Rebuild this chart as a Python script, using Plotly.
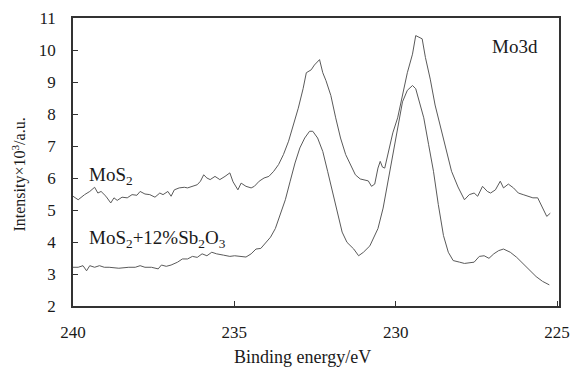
import plotly.graph_objects as go

# MoS2 (upper curve)
mos2_energy = [240.0, 239.84, 239.64, 239.48, 239.33, 239.23, 239.13, 238.98, 238.83, 238.73,
               238.63, 238.48, 238.32, 238.17, 238.02, 237.92, 237.77, 237.62, 237.46, 237.31,
               237.21, 237.06, 236.96, 236.86, 236.71, 236.55, 236.45, 236.30, 236.15, 236.05,
               235.95, 235.85, 235.75, 235.60, 235.45, 235.29, 235.14, 235.04, 234.89, 234.79,
               234.64, 234.48, 234.38, 234.23, 234.08, 233.93, 233.78, 233.63, 233.48, 233.32,
               233.17, 233.02, 232.87, 232.77, 232.62, 232.52, 232.36, 232.26, 232.16, 232.01,
               231.86, 231.71, 231.55, 231.40, 231.25, 231.10, 230.95, 230.85, 230.75, 230.65,
               230.55, 230.48, 230.41, 230.34, 230.24, 230.09, 229.94, 229.79, 229.64, 229.48,
               229.38, 229.28, 229.18, 229.08, 228.93, 228.78, 228.58, 228.42, 228.27, 228.07,
               227.87, 227.72, 227.57, 227.46, 227.31, 227.16, 227.06, 226.91, 226.76, 226.66,
               226.51, 226.35, 226.20, 226.05, 225.90, 225.75, 225.60, 225.45, 225.32, 225.21]
mos2_intensity = [5.43, 5.32, 5.48, 5.58, 5.71, 5.53, 5.58, 5.43, 5.22, 5.38,
                  5.30, 5.40, 5.38, 5.48, 5.46, 5.58, 5.50, 5.48, 5.40, 5.53,
                  5.48, 5.58, 5.43, 5.63, 5.69, 5.71, 5.69, 5.74, 5.79, 5.90,
                  6.10, 6.00, 5.95, 6.05, 5.95, 6.05, 6.16, 5.88, 5.63, 5.84,
                  5.74, 5.69, 5.74, 5.90, 6.00, 6.05, 6.21, 6.42, 6.73, 7.15,
                  7.67, 8.18, 8.79, 9.29, 9.38, 9.53, 9.70, 9.29, 9.04, 8.58,
                  7.88, 7.25, 6.73, 6.42, 6.10, 5.97, 5.92, 5.91, 5.74, 5.81,
                  6.31, 6.52, 6.34, 6.31, 6.75, 7.41, 7.88, 8.58, 9.29, 9.87,
                  10.45, 10.40, 10.35, 9.77, 9.09, 8.28, 7.46, 6.73, 6.21, 5.72,
                  5.32, 5.48, 5.53, 5.43, 5.74, 5.58, 5.53, 5.63, 5.90, 5.69,
                  5.81, 5.69, 5.53, 5.48, 5.43, 5.38, 5.38, 5.06, 4.80, 4.90]

# MoS2 + 12% Sb2O3 (lower curve)
mix_energy = [240.0, 239.84, 239.69, 239.58, 239.48, 239.33, 239.18, 239.03, 238.88, 238.58,
              238.27, 238.07, 237.92, 237.77, 237.57, 237.36, 237.26, 237.11, 236.96, 236.76,
              236.61, 236.45, 236.30, 236.15, 236.00, 235.85, 235.70, 235.55, 235.34, 235.14,
              234.99, 234.85, 234.64, 234.48, 234.33, 234.18, 234.03, 233.88, 233.73, 233.58,
              233.42, 233.27, 233.12, 232.97, 232.82, 232.67, 232.57, 232.42, 232.26, 232.11,
              231.96, 231.81, 231.66, 231.51, 231.30, 231.15, 231.00, 230.80, 230.65, 230.55,
              230.39, 230.24, 230.09, 229.94, 229.79, 229.64, 229.48, 229.38, 229.23, 229.13,
              228.98, 228.83, 228.68, 228.52, 228.37, 228.22, 228.02, 227.87, 227.57, 227.41,
              227.26, 227.11, 226.96, 226.81, 226.66, 226.45, 226.25, 226.05, 225.85, 225.65,
              225.45, 225.24]
mix_intensity = [3.21, 3.21, 3.26, 3.10, 3.26, 3.21, 3.26, 3.21, 3.21, 3.18,
                 3.21, 3.21, 3.26, 3.21, 3.21, 3.16, 3.28, 3.24, 3.28, 3.37,
                 3.47, 3.47, 3.55, 3.52, 3.63, 3.57, 3.68, 3.63, 3.59, 3.55,
                 3.57, 3.56, 3.53, 3.63, 3.78, 3.80, 3.99, 4.15, 4.42, 4.85,
                 5.32, 5.90, 6.47, 6.94, 7.25, 7.46, 7.46, 7.25, 6.83, 6.21,
                 5.58, 4.96, 4.31, 3.99, 3.78, 3.57, 3.68, 3.88, 4.20, 4.42,
                 5.06, 5.90, 6.83, 7.56, 8.38, 8.74, 8.89, 8.79, 8.28, 7.88,
                 7.04, 6.21, 5.17, 4.20, 3.68, 3.42, 3.37, 3.33, 3.37, 3.55,
                 3.57, 3.49, 3.63, 3.73, 3.78, 3.68, 3.52, 3.31, 3.10, 2.92,
                 2.77, 2.66]

x_ticks = [240, 235, 230, 225]
y_ticks = [2, 3, 4, 5, 6, 7, 8, 9, 10, 11]

FONT = "Liberation Serif, Times New Roman, serif"
LINE = "#5a5a5a"
AX = "#333333"
TXT = "#1a1a1a"

fig = go.Figure()
fig.add_trace(go.Scatter(x=mos2_energy, y=mos2_intensity, mode="lines",
                         line=dict(color=LINE, width=1), showlegend=False))
fig.add_trace(go.Scatter(x=mix_energy, y=mix_intensity, mode="lines",
                         line=dict(color=LINE, width=1), showlegend=False))

fig.update_layout(
    width=579, height=370,
    margin=dict(l=73, r=9, t=14, b=64),
    paper_bgcolor="white", plot_bgcolor="white",
    font=dict(family=FONT, size=17, color=TXT),
    xaxis=dict(range=[240, 224.94], tickvals=x_ticks, ticks="inside", ticklen=5,
               tickcolor=AX, showline=True, linecolor=AX, linewidth=1.5, mirror=True,
               showgrid=False, zeroline=False, ticklabelstandoff=10,
               tickfont=dict(family=FONT, size=17, color=TXT)),
    yaxis=dict(range=[2, 11], tickvals=y_ticks, ticks="inside", ticklen=5,
               tickcolor=AX, showline=True, linecolor=AX, linewidth=1.5, mirror=True,
               showgrid=False, zeroline=False, ticklabelstandoff=12,
               tickfont=dict(family=FONT, size=17, color=TXT)),
    annotations=[
        dict(text="Binding energy/eV", xref="paper", yref="paper",
             x=0.473, y=-0.178, xanchor="center", yanchor="middle", showarrow=False,
             font=dict(family=FONT, size=18, color=TXT)),
        dict(text="Intensity×10<sup>3</sup>/a.u.", xref="paper", yref="paper",
             x=-0.11, y=0.455, xanchor="center", yanchor="middle", showarrow=False,
             textangle=-90, font=dict(family=FONT, size=16, color=TXT)),
        dict(text="MoS<sub>2</sub>", xref="x", yref="y", x=239.58, y=6.05,
             xanchor="left", yanchor="middle", showarrow=False,
             font=dict(family=FONT, size=19, color=TXT)),
        dict(text="MoS<sub>2</sub>+12%Sb<sub>2</sub>O<sub>3</sub>", xref="x", yref="y",
             x=239.58, y=4.1, xanchor="left", yanchor="middle", showarrow=False,
             font=dict(family=FONT, size=19, color=TXT)),
        dict(text="Mo3d", xref="x", yref="y", x=226.3, y=10.1,
             xanchor="center", yanchor="middle", showarrow=False,
             font=dict(family=FONT, size=19, color=TXT)),
    ],
)

fig.write_html("out.html")
